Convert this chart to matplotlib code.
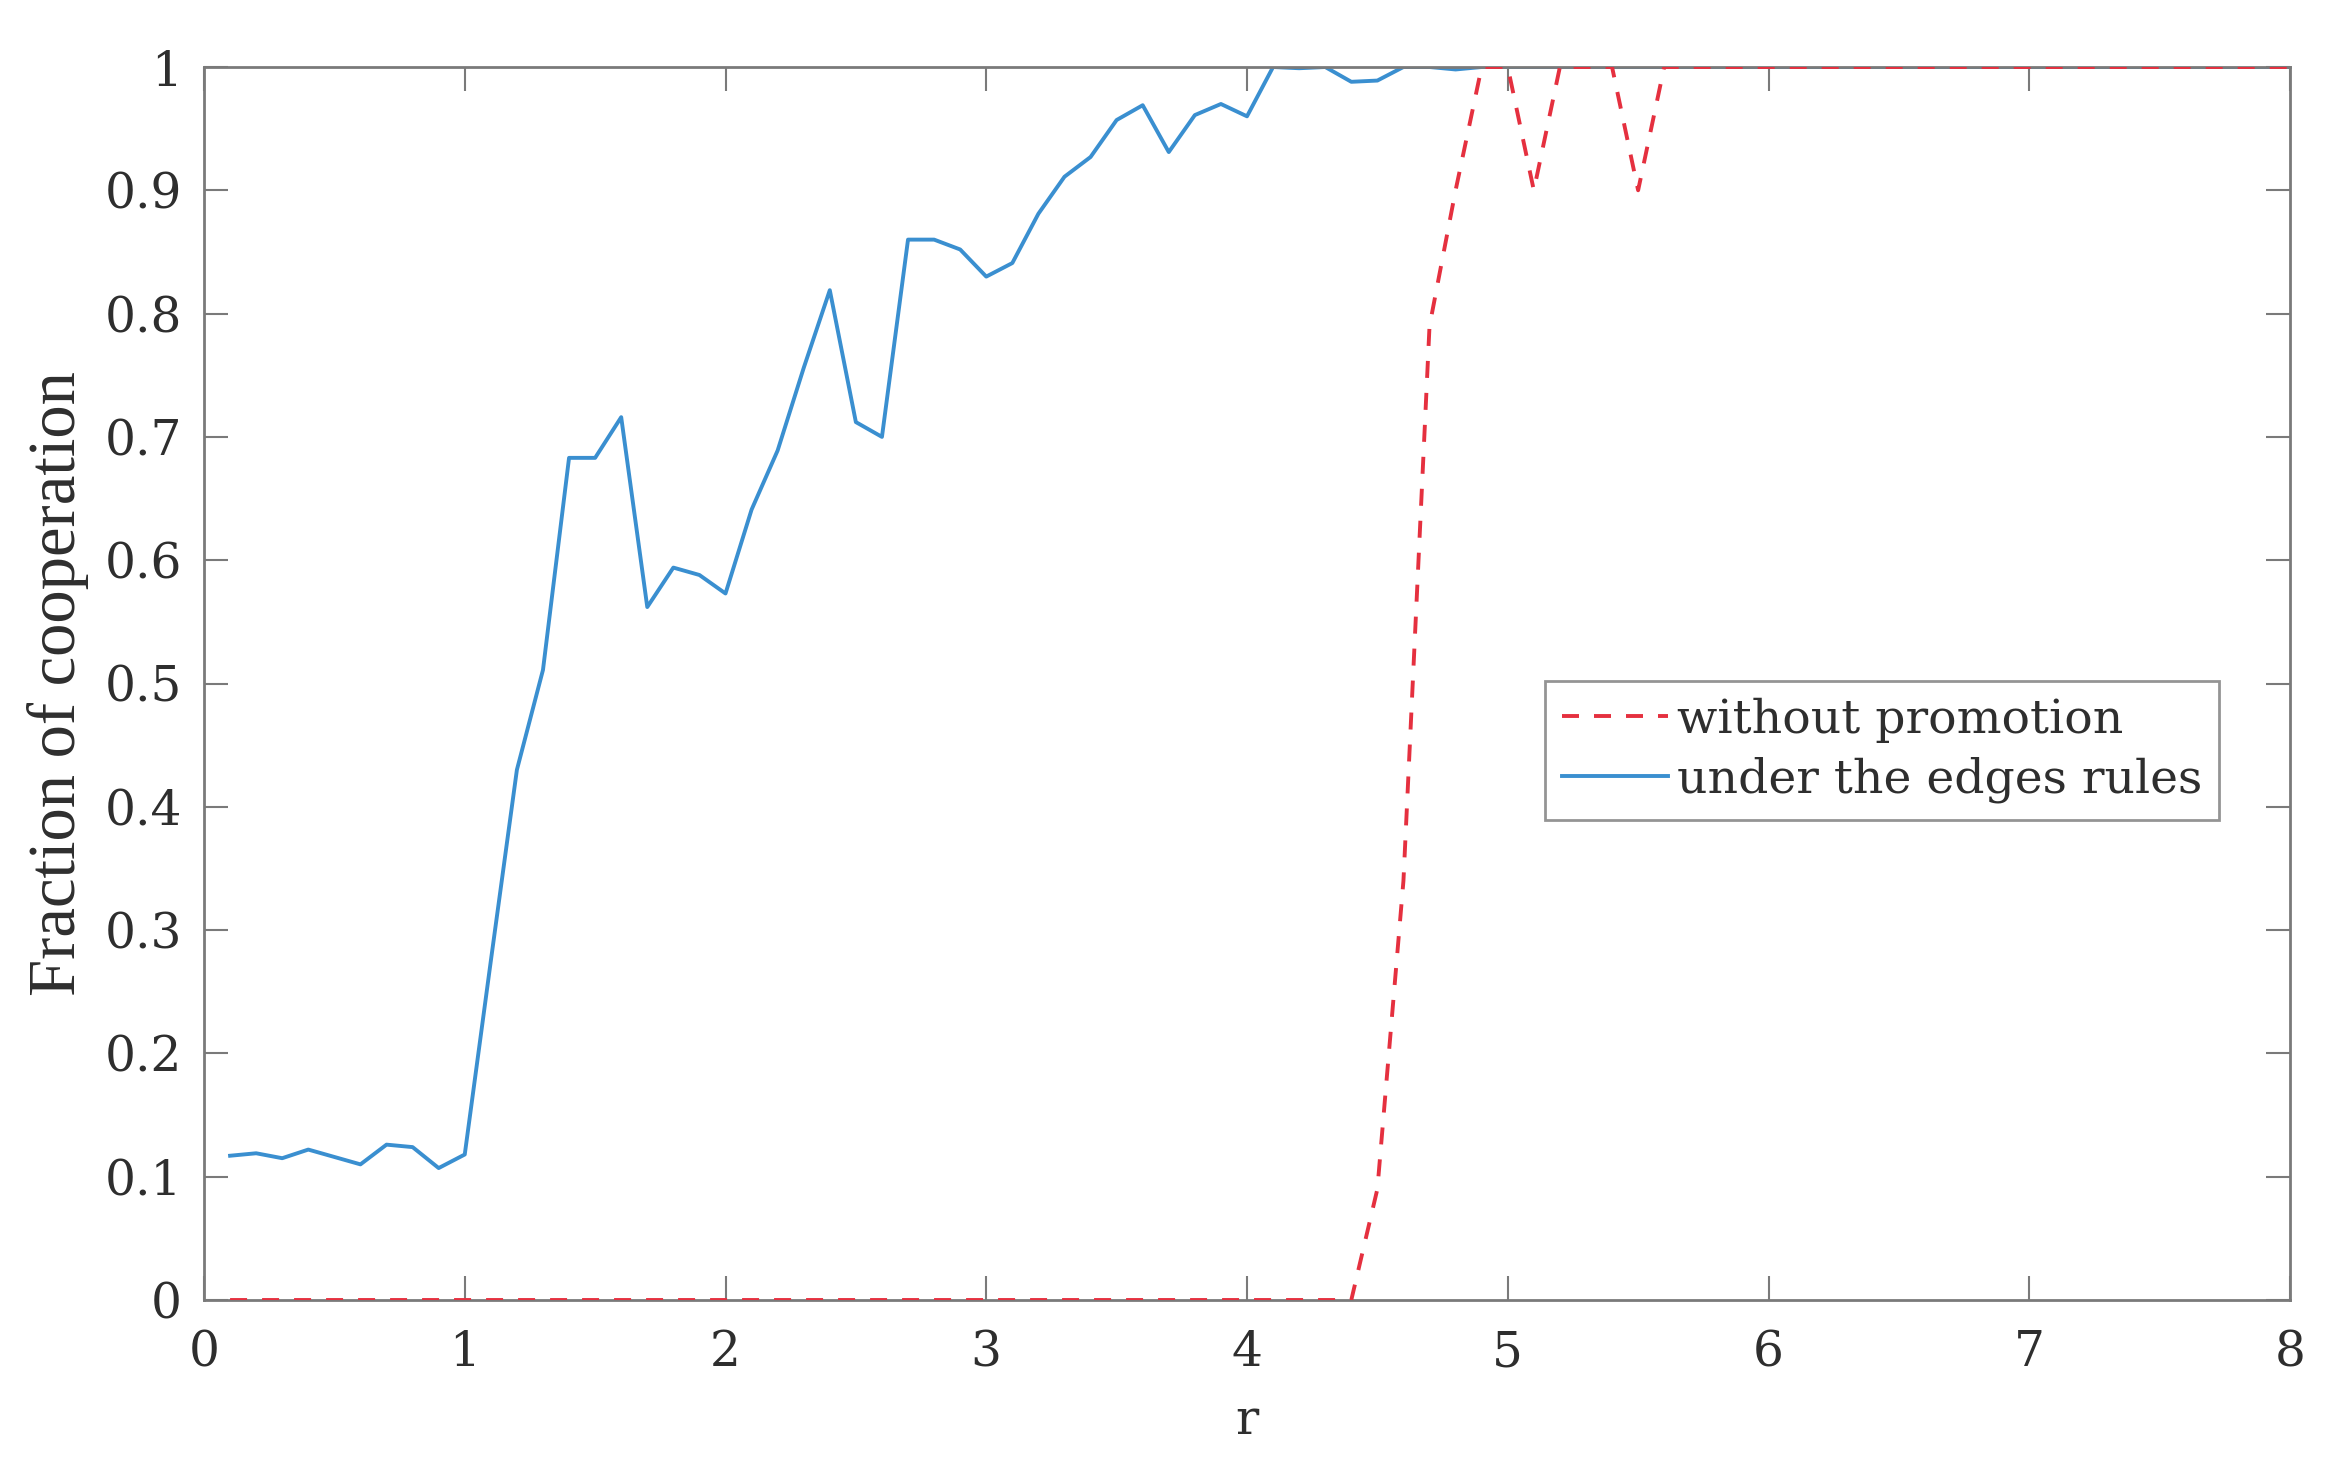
import matplotlib
matplotlib.use("Agg")
import matplotlib.pyplot as plt
import numpy as np

# ---- data ----
r_values = [round(0.1 * i, 1) for i in range(1, 81)]

edges_rules = [
    0.117, 0.119, 0.115, 0.122, 0.116, 0.110, 0.126, 0.124, 0.107, 0.118,
    0.275, 0.430, 0.511, 0.683, 0.683, 0.716, 0.562, 0.594, 0.588, 0.573,
    0.641, 0.689, 0.756, 0.819, 0.712, 0.700, 0.860, 0.860, 0.852, 0.830,
    0.841, 0.881, 0.911, 0.927, 0.957, 0.969, 0.931, 0.961, 0.970, 0.960,
    1.000, 0.999, 1.000, 0.988, 0.989, 1.000, 1.000, 0.998, 1.000, 1.000,
    1.000, 1.000, 1.000, 1.000, 1.000, 1.000, 1.000, 1.000, 1.000, 1.000,
    1.000, 1.000, 1.000, 1.000, 1.000, 1.000, 1.000, 1.000, 1.000, 1.000,
    1.000, 1.000, 1.000, 1.000, 1.000, 1.000, 1.000, 1.000, 1.000, 1.000,
]

without_promotion = [0.0] * 44 + [
    0.09, 0.34, 0.79, 0.90, 1.00, 1.00, 0.90, 1.00, 1.00, 1.00,
    0.90, 1.00,
] + [1.0] * 24

x_ticks = [0, 1, 2, 3, 4, 5, 6, 7, 8]
x_tick_labels = ["0", "1", "2", "3", "4", "5", "6", "7", "8"]
y_ticks = [0, 0.1, 0.2, 0.3, 0.4, 0.5, 0.6, 0.7, 0.8, 0.9, 1.0]
y_tick_labels = ["0", "0.1", "0.2", "0.3", "0.4", "0.5", "0.6", "0.7", "0.8", "0.9", "1"]

label_red = "without promotion"
label_blue = "under the edges rules"
x_label = "r"
y_label = "Fraction of cooperation"

# ---- styling ----
W, H = 2348, 1473
DPI = 100
fig = plt.figure(figsize=(W / DPI, H / DPI), dpi=DPI)
ax = fig.add_axes([204 / W, 1 - 1300 / H, (2290 - 204) / W, (1300 - 67) / H])

red = "#e5303f"
blue = "#3a8fd0"
lw = 2.8
lw_px = lw * DPI / 72
ax.plot(r_values, without_promotion, color=red, lw=lw,
        linestyle=(0, (17 / lw_px, 15 / lw_px)), label=label_red, zorder=3)
ax.plot(r_values, edges_rules, color=blue, lw=lw, label=label_blue, zorder=2)

ax.set_xlim(0, 8)
ax.set_ylim(0, 1)
ax.set_xticks(x_ticks)
ax.set_xticklabels(x_tick_labels)
ax.set_yticks(y_ticks)
ax.set_yticklabels(y_tick_labels)

spine_col = "#7a7a7a"
for s in ax.spines.values():
    s.set_color(spine_col)
    s.set_linewidth(2.0)

ax.tick_params(axis="both", direction="in", length=17, width=1.5,
               color=spine_col, top=True, right=True, labelcolor="#2e2e2e")
ax.tick_params(axis="x", pad=21)
ax.tick_params(axis="y", pad=16)
for lab in ax.get_xticklabels() + ax.get_yticklabels():
    lab.set_fontfamily("DejaVu Serif")
    lab.set_fontsize(35)

ax.set_xlabel(x_label, fontfamily="DejaVu Serif", fontsize=35, color="#2e2e2e",
              va="baseline")
ax.xaxis.set_label_coords(0.5, (1300 - 1434) / 1233)
ax.set_ylabel(y_label, fontfamily="Liberation Serif", fontsize=48, color="#2e2e2e",
              va="center")
ax.yaxis.set_label_coords((58 - 204) / 2086, 0.5)

leg = ax.legend(loc="upper left", bbox_to_anchor=((1545 - 204) / 2086, (1300 - 681) / 1233),
                prop=dict(family="DejaVu Serif", size=34), frameon=True, fancybox=False,
                edgecolor="#7a7a7a", handlelength=2.25, handletextpad=0.2,
                borderpad=0.35, labelspacing=0.3, borderaxespad=0.0)
leg.get_frame().set_linewidth(2.0)
for t in leg.get_texts():
    t.set_color("#2e2e2e")

fig.savefig("out.png", dpi=DPI, facecolor="white")
